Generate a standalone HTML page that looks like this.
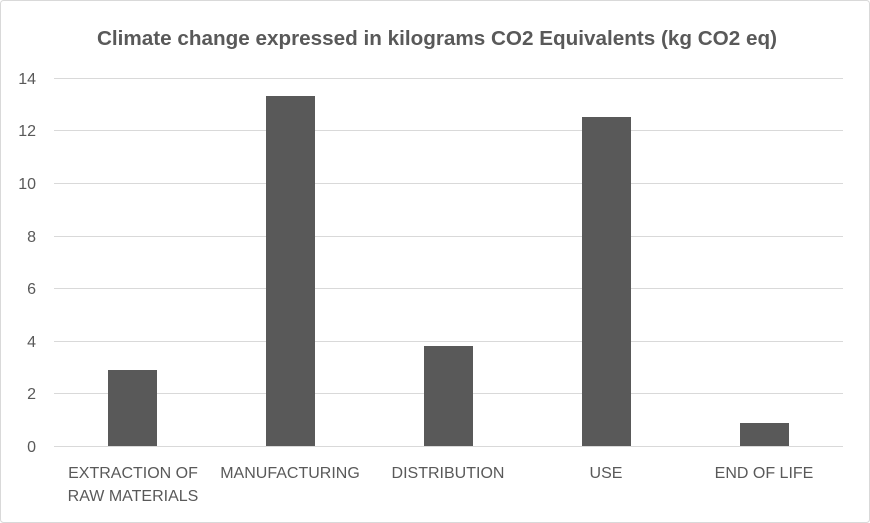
<!DOCTYPE html>
<html><head><meta charset="utf-8"><style>
html,body{margin:0;padding:0;background:#fff}
svg{display:block}
text{font-family:"Liberation Sans",sans-serif;fill:#595959}
</style></head><body>
<svg width="870" height="523" viewBox="0 0 870 523">
<rect x="0.5" y="0.5" width="869" height="522" rx="3" fill="#fff" stroke="#d9d9d9"/>
<text x="437" y="45" text-anchor="middle" font-size="20.5" font-weight="bold" textLength="680" lengthAdjust="spacingAndGlyphs">Climate change expressed in kilograms CO2 Equivalents (kg CO2 eq)</text>
<g stroke="#d9d9d9" stroke-width="1">
<line x1="54" x2="843" y1="78.5" y2="78.5"/>
<line x1="54" x2="843" y1="130.5" y2="130.5"/>
<line x1="54" x2="843" y1="183.5" y2="183.5"/>
<line x1="54" x2="843" y1="236.5" y2="236.5"/>
<line x1="54" x2="843" y1="288.5" y2="288.5"/>
<line x1="54" x2="843" y1="341.5" y2="341.5"/>
<line x1="54" x2="843" y1="393.5" y2="393.5"/>
<line x1="54" x2="843" y1="446.5" y2="446.5"/>
</g>
<g font-size="16" text-anchor="end">
<text x="36" y="84">14</text>
<text x="36" y="136">12</text>
<text x="36" y="189">10</text>
<text x="36" y="242">8</text>
<text x="36" y="294">6</text>
<text x="36" y="347">4</text>
<text x="36" y="399">2</text>
<text x="36" y="452">0</text>
</g>
<g fill="#595959">
<rect x="108" y="370" width="49" height="76"/>
<rect x="266" y="96" width="49" height="350"/>
<rect x="424" y="346" width="49" height="100"/>
<rect x="582" y="117" width="49" height="329"/>
<rect x="740" y="423" width="49" height="23"/>
</g>
<g font-size="16" text-anchor="middle">
<text x="133" y="478">EXTRACTION OF</text>
<text x="133" y="501">RAW MATERIALS</text>
<text x="290" y="478">MANUFACTURING</text>
<text x="448" y="478">DISTRIBUTION</text>
<text x="606" y="478">USE</text>
<text x="764" y="478">END OF LIFE</text>
</g>
</svg>
</body></html>
